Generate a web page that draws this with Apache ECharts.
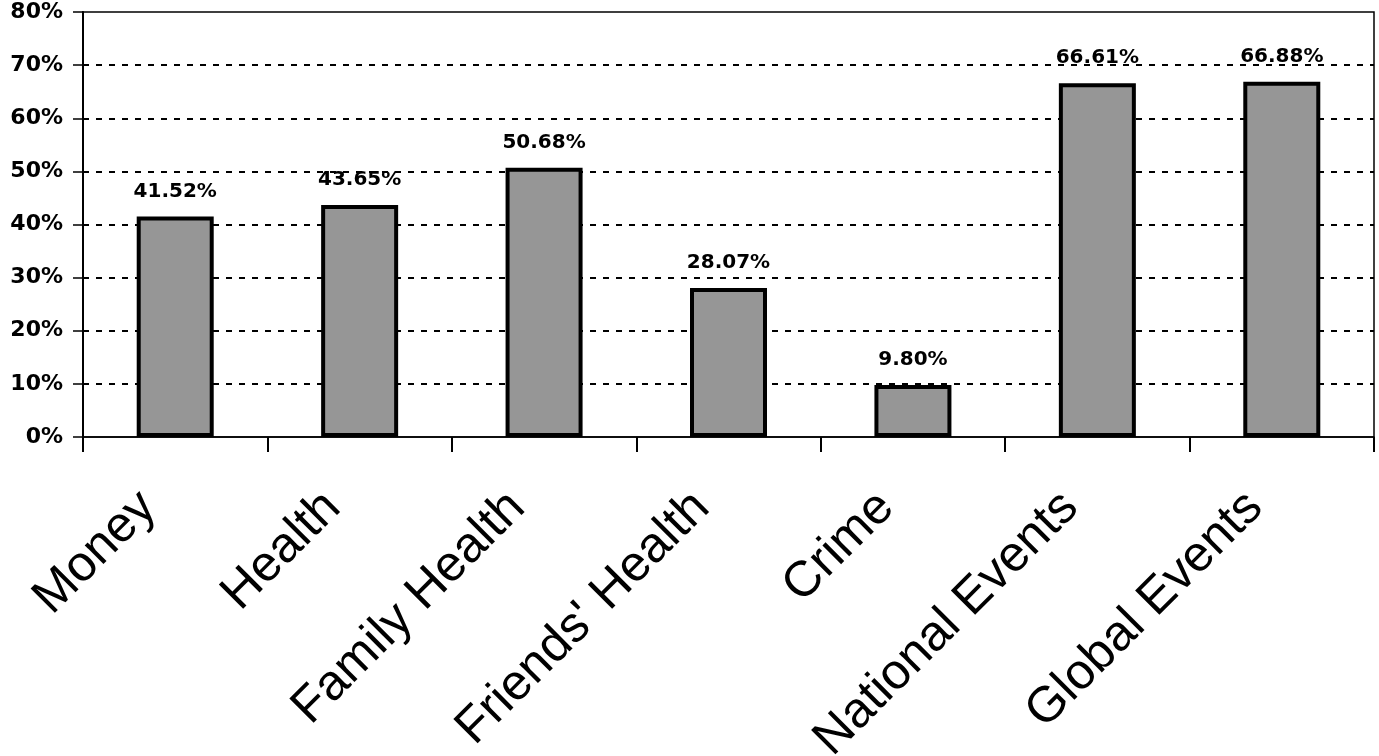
<!DOCTYPE html>
<html>
<head>
<meta charset="utf-8">
<script src="https://cdn.jsdelivr.net/npm/echarts@6/dist/echarts.min.js"></script>
<style>
  html, body { margin: 0; padding: 0; background: #fff; }
  #chart { width: 1379px; height: 756px; }
</style>
</head>
<body>
<div id="chart"></div>
<script>
var categories = ['Money', 'Health', 'Family Health', "Friends' Health", 'Crime', 'National Events', 'Global Events'];
var percentValues = [41.52, 43.65, 50.68, 28.07, 9.80, 66.61, 66.88];
var yTicks = [0, 10, 20, 30, 40, 50, 60, 70, 80];

var chart = echarts.init(document.getElementById('chart'));
chart.setOption({
    animation: false,
    backgroundColor: '#fff',
    grid: {
        left: 83,
        right: 5,
        top: 12,
        bottom: 319,
        containLabel: false,
        outerBoundsMode: 'none',
        show: true,
        borderColor: '#000',
        borderWidth: 1.5
    },
    xAxis: {
        type: 'category',
        data: categories,
        axisLine: { show: true, lineStyle: { color: '#000', width: 1.5 } },
        axisTick: { show: true, alignWithLabel: false, length: 15, lineStyle: { color: '#000', width: 2 } },
        axisLabel: {
            interval: 0,
            rotate: 45,
            margin: 36,
            padding: [0, 38, 0, 0],
            color: '#000',
            fontFamily: '"Liberation Sans", Arial, sans-serif',
            fontSize: 50
        }
    },
    yAxis: {
        type: 'value',
        min: yTicks[0],
        max: yTicks[yTicks.length - 1],
        interval: 10,
        axisLine: { show: true, lineStyle: { color: '#000', width: 2 } },
        axisTick: { show: true, inside: false, length: 10, lineStyle: { color: '#000', width: 1.5 } },
        axisLabel: {
            margin: 20,
            color: '#000',
            fontFamily: '"DejaVu Sans", sans-serif',
            fontWeight: 'bold',
            fontSize: 22,
            formatter: '{value}%'
        },
        splitLine: {
            show: true,
            showMinLine: false,
            showMaxLine: false,
            lineStyle: { color: '#000', type: [6, 7], width: 2 }
        }
    },
    series: [{
        type: 'bar',
        data: percentValues,
        barWidth: 77,
        itemStyle: { color: '#969696', borderColor: '#000', borderWidth: 4 },
        label: {
            show: true,
            position: 'top',
            distance: 15,
            color: '#000',
            fontFamily: '"DejaVu Sans", sans-serif',
            fontWeight: 'bold',
            fontSize: 20,
            formatter: function (p) { return p.value.toFixed(2) + '%'; }
        }
    }]
});
</script>
</body>
</html>
